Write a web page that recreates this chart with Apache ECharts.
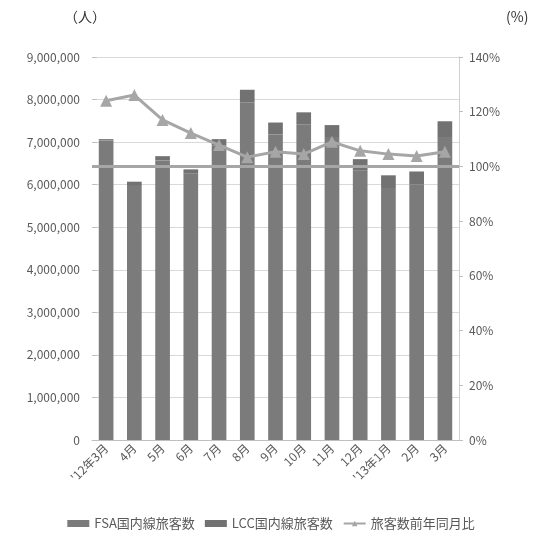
<!DOCTYPE html>
<html><head><meta charset="utf-8">
<script src="https://cdn.jsdelivr.net/npm/echarts@6/dist/echarts.min.js"></script>
<style>html,body{margin:0;padding:0;background:#fff}#c{width:542px;height:541px}</style>
</head><body><div id="c"></div>
<script>
const categories = ["'12年3月","4月","5月","6月","7月","8月","9月","10月","11月","12月","'13年1月","2月","3月"];
const totalPassengers = [7070000,6070000,6670000,6360000,7070000,8230000,7460000,7700000,7400000,6600000,6220000,6310000,7490000];
const lccPassengers = [30000,80000,100000,100000,150000,300000,280000,280000,280000,270000,300000,300000,370000];
const fsaPassengers = totalPassengers.map((t,i)=>t-lccPassengers[i]);
const yoyRatio = [124.0,126.1,117.0,112.2,107.8,103.4,105.4,104.5,109.0,105.7,104.5,103.8,105.4];

const font = '"Noto Sans CJK JP", sans-serif';
const txt = '#595959';
const chart = echarts.init(document.getElementById('c'));
chart.setOption({
  animation:false,
  textStyle:{fontFamily:font},
  grid:{left:92,right:83,top:57,bottom:101,containLabel:false},
  graphic:[
    {type:'text',left:64,top:10,style:{text:'（人）',font:'14px '+font,fill:'#333'}},
    {type:'text',left:506,top:10,style:{text:'(%)',font:'14px '+font,fill:'#333'}}
  ],
  legend:{
    bottom:6,left:'center',itemWidth:22,itemHeight:7,itemGap:10,
    textStyle:{color:txt,fontSize:13,fontFamily:font},
    data:[{name:'FSA国内線旅客数',icon:'rect'},{name:'LCC国内線旅客数',icon:'rect'},{name:'旅客数前年同月比'}]
  },
  xAxis:{
    type:'category',data:categories,
    axisLine:{lineStyle:{color:'#bfbfbf',width:1}},
    axisTick:{show:false},
    axisLabel:{rotate:45,color:txt,fontSize:12,fontFamily:font,margin:6,interval:0}
  },
  yAxis:[
    {type:'value',min:0,max:9000000,interval:1000000,
     axisLine:{show:false},
     axisTick:{show:true,inside:true,length:5,lineStyle:{color:'#bfbfbf'}},
     splitLine:{lineStyle:{color:'#d9d9d9',width:1}},
     axisLabel:{color:txt,fontSize:12,fontFamily:font,margin:12,
       formatter:v=>v.toLocaleString('en-US')}},
    {type:'value',min:0,max:140,interval:20,
     axisLine:{show:true,lineStyle:{color:'#d0d0d0'}},
     axisTick:{show:true,length:4,lineStyle:{color:'#bfbfbf'}},
     splitLine:{show:false},
     axisLabel:{color:txt,fontSize:12,fontFamily:font,margin:10,formatter:'{value}%'}}
  ],
  series:[
    {name:'FSA国内線旅客数',type:'bar',stack:'p',data:fsaPassengers,barWidth:'52%',
     itemStyle:{color:'#7b7b7b'}},
    {name:'LCC国内線旅客数',type:'bar',stack:'p',data:lccPassengers,barWidth:'52%',
     itemStyle:{color:'#727272'}},
    {name:'旅客数前年同月比',type:'line',yAxisIndex:1,data:yoyRatio,
     symbol:'triangle',symbolSize:12,z:5,
     lineStyle:{color:'#a6a6a6',width:3},itemStyle:{color:'#a6a6a6'},
     markLine:{silent:true,symbol:'none',label:{show:false},
       lineStyle:{color:'#a6a6a6',width:3,type:'solid'},
       data:[{yAxis:100}]}}
  ]
});
</script></body></html>
